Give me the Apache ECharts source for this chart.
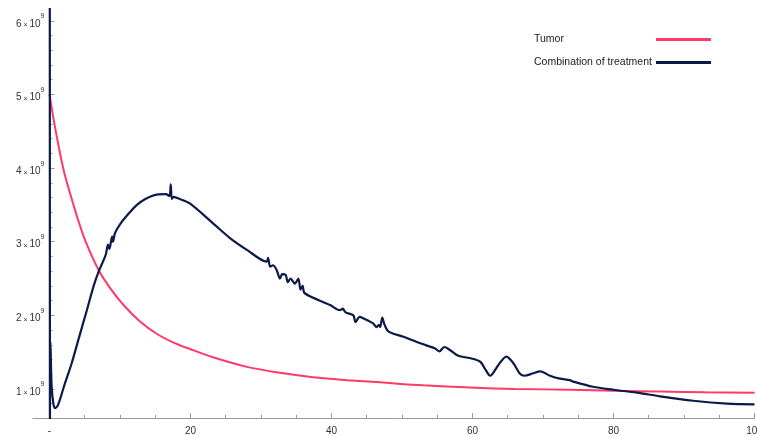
<!DOCTYPE html>
<html>
<head>
<meta charset="utf-8">
<script src="https://cdn.jsdelivr.net/npm/echarts@6/dist/echarts.min.js"></script>
<style>
  html, body { margin: 0; padding: 0; background: #fff; }
  #main { width: 757px; height: 437px; }
</style>
</head>
<body>
<div id="main"></div>
<script>
// values are in units of 10^9
const tumorT = [0, 0.64, 1.35, 2.06, 3.0, 3.94, 5.13, 7.0, 8.68, 10.5, 12.8, 15.2, 17.6, 20, 23.2, 28, 32.7, 37.4, 42.2, 46.9, 53, 59.6, 66, 73.8, 80, 86.6, 93, 100];
const tumorV = [5.0, 4.63, 4.27, 3.95, 3.63, 3.33, 3.0, 2.61, 2.36, 2.14, 1.92, 1.75, 1.63, 1.54, 1.43, 1.30, 1.22, 1.16, 1.12, 1.09, 1.05, 1.02, 1.00, 0.99, 0.975, 0.965, 0.955, 0.95];

const comboT = [0, 0.06, 0.13, 0.3, 0.55, 0.8, 1.2, 2.2, 3.15, 4.1, 5.3, 6.3, 7.0, 7.97, 8.3, 8.5, 8.87, 9.0, 9.3, 10.1, 11.4, 12.4, 13.6, 15.2, 16.5, 17.0, 17.2, 17.35, 17.6, 18.5, 19.9, 23.2, 25.6, 28, 30.8, 31.0, 31.3, 31.7, 32.2, 32.7, 33.0, 33.5, 33.8, 34.2, 34.8, 35.3, 35.6, 35.9, 36.2, 39.8, 41.2, 41.6, 42.0, 43.1, 43.4, 44.0, 44.5, 45.9, 46.4, 46.7, 46.9, 47.2, 47.5, 48.1, 50.2, 52.6, 54.7, 55.3, 56, 56.8, 58, 59.6, 61.1, 61.8, 62.5, 63.7, 64.8, 65.8, 66.7, 67.4, 68.5, 69.6, 71, 72.4, 73.8, 74.3, 77.1, 80, 83.3, 86.6, 91.3, 96.1, 100];
const comboV = [30, 0.3, 1.64, 1.05, 0.8, 0.74, 0.78, 1.08, 1.35, 1.67, 2.07, 2.41, 2.6, 2.82, 2.96, 2.9, 3.07, 3.0, 3.12, 3.25, 3.40, 3.50, 3.58, 3.64, 3.645, 3.62, 3.78, 3.58, 3.61, 3.58, 3.52, 3.25, 3.05, 2.89, 2.73, 2.78, 2.66, 2.68, 2.62, 2.50, 2.56, 2.55, 2.45, 2.50, 2.43, 2.50, 2.35, 2.40, 2.30, 2.14, 2.07, 2.09, 2.04, 2.0, 1.91, 1.98, 1.96, 1.89, 1.84, 1.87, 1.84, 1.97, 1.88, 1.78, 1.71, 1.62, 1.55, 1.51, 1.57, 1.53, 1.45, 1.42, 1.37, 1.27, 1.18, 1.33, 1.44, 1.35, 1.21, 1.18, 1.21, 1.24, 1.18, 1.14, 1.12, 1.10, 1.03, 0.99, 0.95, 0.90, 0.84, 0.80, 0.79];

const xLabels = [0, 20, 40, 60, 80, 100];
const xMinorTicks = [0, 5, 10, 15, 20, 25, 30, 35, 40, 45, 50, 55, 60, 65, 70, 75, 80, 85, 90, 95, 100];
const yLabels = [1, 2, 3, 4, 5, 6];
const yMinorTicks = [0.8, 1.0, 1.2, 1.4, 1.6, 1.8, 2.0, 2.2, 2.4, 2.6, 2.8, 3.0, 3.2, 3.4, 3.6, 3.8, 4.0, 4.2, 4.4, 4.6, 4.8, 5.0, 5.2, 5.4, 5.6, 5.8, 6.0];

const seriesNames = ['Tumor', 'Combination of treatment'];
const colors = ['#ff3a66', '#0c1a4a'];

const font = 'Liberation Sans, Arial, sans-serif';
const axisColor = '#9a9a9a';
const X_MIN = -2.34, X_MAX = 100, Y_MIN = 0.606, Y_MAX = 6.16;
const Y_AXIS_SHIFT = -16.5; // y axis sits at x = 0, not at the left edge of the grid

const zip = (a, b) => a.map((t, i) => [t, b[i]]);

const chart = echarts.init(document.getElementById('main'), null, { renderer: 'canvas' });

const option = {
  animation: false,
  backgroundColor: '#fff',
  color: colors,
  grid: { left: 33, right: 2.5, top: 9, bottom: 19, containLabel: false, outerBoundsMode: 'none' },
  legend: {
    left: 534, top: 34, padding: 0, orient: 'vertical', align: 'right',
    icon: 'rect', itemWidth: 55, itemHeight: 3, itemGap: 12,
    formatter: name => `{a|${name}}`,
    textStyle: {
      fontFamily: font, fontSize: 10.5, color: '#222',
      rich: { a: { fontFamily: font, fontSize: 10.5, color: '#222', width: 117, align: 'left' } }
    },
    data: seriesNames
  },
  xAxis: [{
    type: 'value', min: X_MIN, max: X_MAX,
    splitLine: { show: false },
    axisLine: { lineStyle: { color: axisColor, width: 1 } },
    axisTick: { inside: true, length: 3, lineStyle: { color: axisColor }, customValues: xMinorTicks },
    axisLabel: {
      customValues: xLabels, margin: 8, color: '#333', fontFamily: font, fontSize: 10,
      formatter: v => (v === 0 ? '-' : String(v))
    }
  }, {
    type: 'value', min: X_MIN, max: X_MAX, position: 'bottom',
    splitLine: { show: false }, axisLine: { show: false }, axisLabel: { show: false },
    axisTick: { inside: true, length: 5, lineStyle: { color: axisColor }, customValues: xLabels }
  }],
  yAxis: [{
    type: 'value', min: Y_MIN, max: Y_MAX, position: 'left', offset: Y_AXIS_SHIFT,
    splitLine: { show: false },
    axisLine: { onZero: false, lineStyle: { color: axisColor, width: 1 } },
    axisTick: { inside: true, length: 3, lineStyle: { color: axisColor }, customValues: yMinorTicks },
    axisLabel: {
      customValues: yLabels, margin: 5, color: '#333',
      formatter: v => `{n|${v}}{x| × }{n|10}{s|9}`,
      rich: {
        n: { fontFamily: font, fontSize: 10, color: '#333', lineHeight: 16, verticalAlign: 'bottom' },
        x: { fontFamily: font, fontSize: 7, color: '#333', lineHeight: 16, verticalAlign: 'bottom' },
        s: { fontFamily: font, fontSize: 7, color: '#333', lineHeight: 8, verticalAlign: 'top' }
      }
    }
  }, {
    type: 'value', min: Y_MIN, max: Y_MAX, position: 'left', offset: Y_AXIS_SHIFT,
    splitLine: { show: false }, axisLine: { show: false, onZero: false }, axisLabel: { show: false },
    axisTick: { inside: true, length: 5, lineStyle: { color: axisColor }, customValues: yLabels }
  }],
  series: [{
    name: seriesNames[0], type: 'line', showSymbol: false, symbol: 'none',
    smooth: 0.3, clip: true,
    lineStyle: { width: 2, color: colors[0] },
    data: zip(tumorT, tumorV)
  }, {
    name: seriesNames[1], type: 'line', showSymbol: false, symbol: 'none',
    smooth: 0.3, clip: true,
    lineStyle: { width: 2.2, color: colors[1] },
    data: zip(comboT, comboV)
  }]
};

chart.setOption(option);
</script>
</body>
</html>
